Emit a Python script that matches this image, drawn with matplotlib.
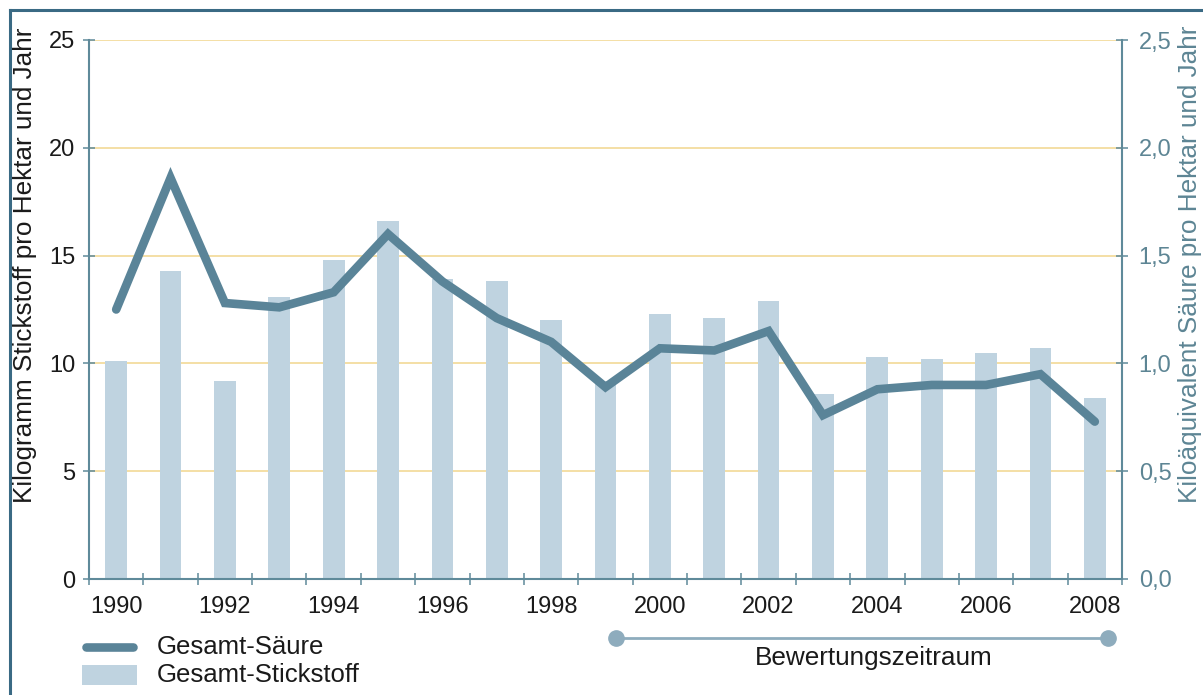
import matplotlib
matplotlib.use("Agg")
import matplotlib.pyplot as plt
from matplotlib.lines import Line2D
from matplotlib.patches import Rectangle
from matplotlib.ticker import FixedLocator, FuncFormatter

# --- data -----------------------------------------------------------------
years = list(range(1990, 2009))
stickstoff = [10.1, 14.3, 9.2, 13.1, 14.8, 16.6, 13.9, 13.8, 12.0, 9.2,
              12.3, 12.1, 12.9, 8.6, 10.3, 10.2, 10.5, 10.7, 8.4]      # kg N / ha / a
saeure = [1.25, 1.86, 1.28, 1.26, 1.33, 1.60, 1.38, 1.21, 1.10, 0.89,
          1.07, 1.06, 1.15, 0.76, 0.88, 0.90, 0.90, 0.95, 0.73]        # keq / ha / a
left_ticks = [0, 5, 10, 15, 20, 25]
right_ticks = [0.0, 0.5, 1.0, 1.5, 2.0, 2.5]
label_years = years[::2]
period = (1999, 2008)

# --- styles ---------------------------------------------------------------
plt.rcParams["font.family"] = ["Liberation Sans", "DejaVu Sans"]
LINE_C = "#5a8498"
BAR_C = "#bfd3e0"
AXIS_C = "#5f8a9a"
RIGHT_TXT = "#5d8594"
GRID_C = "#f3dc9e"
FRAME_C = "#3a6a84"
DOT_C = "#8eacbd"
TXT = "#1a1a1a"

W, H = 1203, 695
fig = plt.figure(figsize=(W / 100, H / 100), dpi=100)
fig.patch.set_facecolor("white")

ax = fig.add_axes([89 / W, 1 - 579 / H, (1122 - 89) / W, (579 - 40) / H])
ax2 = ax.twinx()

# bars (left axis)
ax.bar(years, stickstoff, width=0.4, color=BAR_C, zorder=2)
ax.set_xlim(years[0] - 0.5, years[-1] + 0.5)
ax.set_ylim(0, 25)
ax.set_yticks(left_ticks)
ax.set_yticklabels([str(v) for v in left_ticks])
for v in left_ticks[1:]:
    ax.axhline(v, color=GRID_C, lw=1.3, zorder=1)

# line (right axis)
ax2.plot(years, saeure, color=LINE_C, lw=6.2, solid_capstyle="round",
         solid_joinstyle="miter", zorder=3)
ax2.set_ylim(0, 2.5)
ax2.yaxis.set_major_locator(FixedLocator(right_ticks))
ax2.yaxis.set_major_formatter(FuncFormatter(lambda v, p: f"{v:.1f}".replace(".", ",")))

# x axis: ticks between years, labels every second year
ax.set_xticks(label_years)
ax.set_xticklabels([str(y) for y in label_years])
ax.set_xticks([y - 0.5 for y in years] + [years[-1] + 0.5], minor=True)
ax.tick_params(axis="x", which="major", length=0, pad=12, labelsize=17, labelcolor=TXT)
ax.tick_params(axis="x", which="minor", direction="inout", length=8, width=1.1, color=AXIS_C)
ax.tick_params(axis="y", direction="inout", length=8, width=1.1, color=AXIS_C,
               pad=6, labelsize=17, labelcolor=TXT)
ax2.tick_params(axis="y", direction="inout", length=8, width=1.1, color=AXIS_C,
                pad=8, labelsize=17, labelcolor=RIGHT_TXT)

for a in (ax, ax2):
    a.spines["top"].set_visible(False)
    for s in ("left", "right", "bottom"):
        a.spines[s].set_color(AXIS_C)
        a.spines[s].set_linewidth(1.5)
ax.spines["right"].set_visible(False)
ax2.spines["left"].set_visible(False)
ax2.spines["bottom"].set_visible(False)

# axis titles
fig.text(25 / W, 1 - 265 / H, "Kilogramm Stickstoff pro Hektar und Jahr",
         rotation=90, ha="center", va="center", fontsize=18.8, color=TXT)
fig.text(1190 / W, 1 - 264 / H, "Kiloäquivalent Säure pro Hektar und Jahr",
         rotation=90, ha="center", va="center", fontsize=18.8, color=RIGHT_TXT)

# legend
fig.add_artist(Line2D([86 / W, 133 / W], [1 - 647 / H, 1 - 647 / H],
                      transform=fig.transFigure, color=LINE_C, lw=6.2,
                      solid_capstyle="round"))
fig.add_artist(Rectangle((82 / W, 1 - 685 / H), 55 / W, 20 / H,
                         transform=fig.transFigure, color=BAR_C, lw=0))
fig.text(157 / W, 1 - 647 / H, "Gesamt-Säure", ha="left", va="center",
         fontsize=18.5, color=TXT)
fig.text(157 / W, 1 - 675 / H, "Gesamt-Stickstoff", ha="left", va="center",
         fontsize=18.5, color=TXT)

# assessment period bracket below the axis
trans = ax.get_xaxis_transform()
yb = (579 - 638) / (579 - 40)
px = [period[0] + 0.2, period[1] + 0.25]
ax.plot(px, [yb, yb], transform=trans, color=DOT_C, lw=2.0, clip_on=False, zorder=5)
ax.plot(px, [yb, yb], transform=trans, ls="none", marker="o", ms=11,
        color=DOT_C, clip_on=False, zorder=6)
fig.text(874 / W, 1 - 658 / H, "Bewertungszeitraum", ha="center", va="center",
         fontsize=18.8, color=TXT)

# outer frame
fig.add_artist(Line2D([10 / W, 10 / W], [0, 1 - 10 / H], transform=fig.transFigure,
                      color=FRAME_C, lw=2.2))
fig.add_artist(Line2D([10 / W, 1], [1 - 10 / H, 1 - 10 / H], transform=fig.transFigure,
                      color=FRAME_C, lw=2.2))

fig.savefig("out.png", dpi=100)
